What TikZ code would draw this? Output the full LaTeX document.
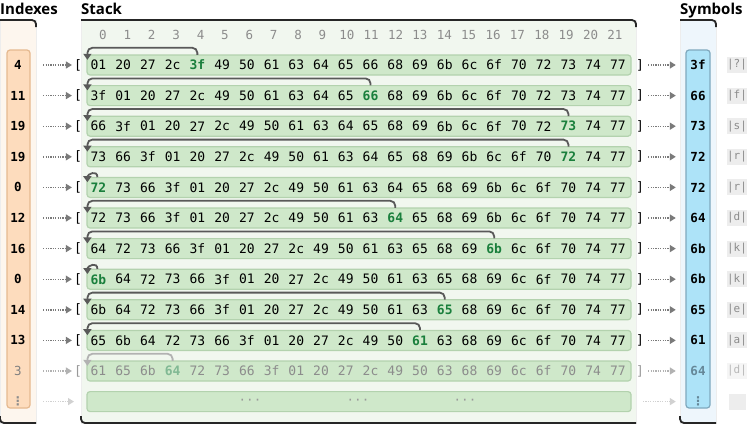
\documentclass[tikz,border=0pt]{standalone}
\usepackage{fontspec}
\setmainfont{Open Sans}
\setsansfont{Open Sans}
\setmonofont{DejaVu Sans Mono}
\newfontfamily\dotsfont{DejaVu Sans}
\usetikzlibrary{positioning, calc, arrows.meta}
\definecolor{IdxBack}{HTML}{FDF6EE}
\definecolor{StackBack}{HTML}{F1F7EF}
\definecolor{SymBack}{HTML}{EEF6FC}
\definecolor{OrangeFill}{HTML}{FDDCBD}
\definecolor{OrangeLine}{HTML}{E5B98F}
\definecolor{BlueFill}{HTML}{ADE3F8}
\definecolor{BlueLine}{HTML}{7FA9BE}
\definecolor{RowFill}{HTML}{CFE8CA}
\definecolor{RowLine}{HTML}{B3D2AE}
\definecolor{HotGreen}{HTML}{1A7F3C}
\definecolor{ArcGray}{HTML}{595959}
\definecolor{FeedGray}{HTML}{7A7A7A}
\tikzstyle{MoveArrow} = [
%arc that brings the symbol to the front
line width=1.8pt, draw=ArcGray, rounded corners=5pt,
-{Triangle[length=6pt, width=8pt]}
]
\tikzstyle{FeedArrow} = [
line width=1.4pt, draw=FeedGray, dash pattern=on 1.2pt off 1.2pt,
-{Triangle[length=6pt, width=7pt]}
]

\begin{document}
\begin{tikzpicture}[x=1pt, y=1pt,
		header/.style = {font=\sffamily\bfseries\fontsize{15}{17}\selectfont, inner sep=0, anchor=base west},
		panel/.style = {draw=black!7, line width=0.6pt},
		panelline/.style = {line width=1.8pt, draw=black!85, rounded corners=4pt},
		colnum/.style = {font=\ttfamily\fontsize{12.5}{14}\selectfont, text=black!45, inner sep=0},
		cold/.style = {font=\ttfamily\fontsize{13}{15}\selectfont, text=black, inner sep=0, minimum height=20pt},
		hot/.style = {cold, font=\ttfamily\bfseries\fontsize{13}{15}\selectfont, text=HotGreen},
		bracket/.style = {font=\ttfamily\fontsize{13}{15}\selectfont, text=black, inner sep=0},
		rowbox/.style = {fill=RowFill, draw=RowLine, line width=1.2pt, rounded corners=3pt, minimum width=544pt, minimum height=20pt, inner sep=0},
		idxnum/.style = {font=\ttfamily\bfseries\fontsize{12.5}{14}\selectfont, text=black, inner sep=0, minimum width=24pt},
		symnum/.style = {idxnum},
		letterbox/.style = {font=\ttfamily\fontsize{11}{13}\selectfont, fill=black!7, text=black!45, inner sep=0, minimum width=17pt, minimum height=16pt},
	]
	\useasboundingbox[fill=white] (0,0) rectangle (748,-426);

	% panels
	\fill[IdxBack, panel] (0,-20) rectangle (36,-423);
	\fill[StackBack, panel] (81,-20) rectangle (636,-423);
	\fill[SymBack, panel] (680,-20) rectangle (716,-423);
	\draw[panelline] (0,-20) -- (36,-20) -- (36,-27);
	\draw[panelline] (81,-20) -- (636,-20) -- (636,-27);
	\draw[panelline] (680,-20) -- (716,-20) -- (716,-27);
	\draw[panelline] (0,-416) -- (0,-423) -- (36,-423);
	\draw[panelline] (81,-416) -- (81,-423) -- (636,-423);
	\draw[panelline] (680,-416) -- (680,-423) -- (716,-423);

	\node[header] (hIdx) at (0,-14) {Indexes};
	\node[header] (hStack) at (81,-14) {Stack};
	\node[header] (hSym) at (680,-14) {Symbols};

	% index and symbol bars
	\draw[fill=OrangeFill, draw=OrangeLine, line width=1.2pt, rounded corners=3pt] (7,-50) rectangle (30,-408);
	\draw[fill=BlueFill, draw=BlueLine, line width=1.2pt, rounded corners=3pt] (686,-50) rectangle (710,-408);

	\foreach \c in {0,...,21}
		\node[colnum] (N\c) at ({103+24.38*\c},-35) {\c};

	\foreach \idx/\sym/\ch/\vals [count=\r from 0] in {
		4/3f/?/{01,20,27,2c,3f,49,50,61,63,64,65,66,68,69,6b,6c,6f,70,72,73,74,77},
		11/66/f/{3f,01,20,27,2c,49,50,61,63,64,65,66,68,69,6b,6c,6f,70,72,73,74,77},
		19/73/s/{66,3f,01,20,27,2c,49,50,61,63,64,65,68,69,6b,6c,6f,70,72,73,74,77},
		19/72/r/{73,66,3f,01,20,27,2c,49,50,61,63,64,65,68,69,6b,6c,6f,70,72,74,77},
		0/72/r/{72,73,66,3f,01,20,27,2c,49,50,61,63,64,65,68,69,6b,6c,6f,70,74,77},
		12/64/d/{72,73,66,3f,01,20,27,2c,49,50,61,63,64,65,68,69,6b,6c,6f,70,74,77},
		16/6b/k/{64,72,73,66,3f,01,20,27,2c,49,50,61,63,65,68,69,6b,6c,6f,70,74,77},
		0/6b/k/{6b,64,72,73,66,3f,01,20,27,2c,49,50,61,63,65,68,69,6c,6f,70,74,77},
		14/65/e/{6b,64,72,73,66,3f,01,20,27,2c,49,50,61,63,65,68,69,6c,6f,70,74,77},
		13/61/a/{65,6b,64,72,73,66,3f,01,20,27,2c,49,50,61,63,68,69,6c,6f,70,74,77},
		3/64/d/{61,65,6b,64,72,73,66,3f,01,20,27,2c,49,50,63,68,69,6c,6f,70,74,77}}
	{
		\ifnum\r=10
			% last shown step is faded
			\tikzset{
				cold/.append style = {text=black!45},
				hot/.append style = {text=HotGreen!55},
				bracket/.append style = {text=black!40},
				idxnum/.append style = {text=black!50, font=\ttfamily\fontsize{12.5}{14}\selectfont},
				symnum/.style = {font=\ttfamily\bfseries\fontsize{12.5}{14}\selectfont, text=BlueLine!80!black, inner sep=0, minimum width=24pt},
				letterbox/.append style = {text=black!28, fill=black!4},
				MoveArrow/.append style = {draw=black!30},
				FeedArrow/.append style = {draw=black!30}}
		\fi
		\pgfmathsetmacro{\y}{-(65+30.6*\r)}
		\node[rowbox] (R\r) at (359,\y) {};
		\foreach \h [count=\c from 0] in \vals {
			\ifnum\c=\idx \def\hs{hot}\else\def\hs{cold}\fi
			\node[\hs] (H\r-\c) at ({98.4+24.74*\c},\y) {\h};
		}
		\node[bracket] (L\r) at (78,\y) {[};
		\node[bracket] (Rb\r) at (640,\y) {]};
		\node[idxnum] (I\r) at (18,\y) {\idx};
		\node[symnum] (S\r) at (698,\y) {\sym};
		\node[letterbox] (C\r) at (737,\y) {|\ch|};

		\draw[FeedArrow] ([xshift=13pt]I\r.east) -- ([xshift=-2pt]L\r.west);
		\draw[FeedArrow] ([xshift=4pt]Rb\r.east) -- ([xshift=-10pt]S\r.west);
		\ifnum\idx>0
			\draw[MoveArrow] (H\r-\idx.north) -- ++(0,7) -| ([xshift=-11pt,yshift=-5pt]H\r-0.north);
		\else
			\draw[MoveArrow] ([xshift=-1pt]H\r-0.north) to[out=90, in=90, looseness=1.8] ([xshift=-11pt,yshift=-5pt]H\r-0.north);
		\fi
	}

	% the stack goes on
	\node[rowbox] (R11) at (359,-401.6) {};
	\foreach \x [count=\k] in {250,358,465}
		\node[colnum, text=black!40] (D\k) at (\x,-401.6) {···};
	\node[idxnum, font=\dotsfont\bfseries\fontsize{12}{14}\selectfont, text=black!45] (I11) at (18,-401.6) {⋮};
	\node[symnum, font=\dotsfont\bfseries\fontsize{12}{14}\selectfont, text=BlueLine!80!black] (S11) at (698,-401.6) {⋮};
	\node[letterbox] (C11) at (737,-401.6) {};
	\coordinate (L11) at (74,-401.6);
	\coordinate (Rb11) at (643,-401.6);
	\draw[FeedArrow, draw=black!18] ([xshift=13pt]I11.east) -- (L11);
	\draw[FeedArrow, draw=black!18] (Rb11) -- ([xshift=-10pt]S11.west);
\end{tikzpicture}
\end{document}
